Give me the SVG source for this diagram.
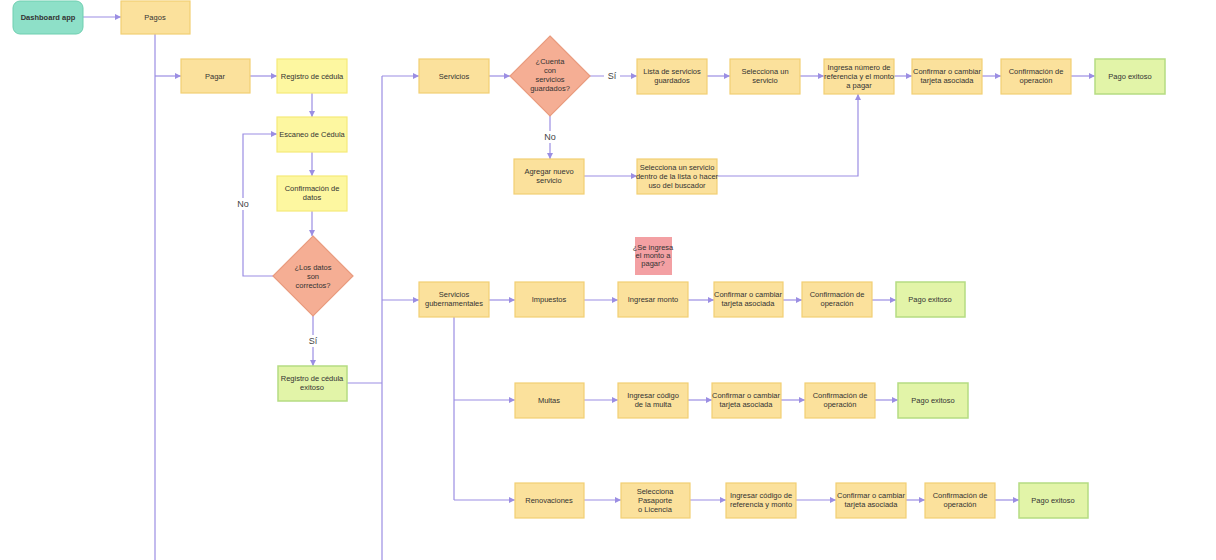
<svg xmlns="http://www.w3.org/2000/svg" width="1216" height="560" viewBox="0 0 1216 560">
<style>
text{font-family:"Liberation Sans",Arial,sans-serif;font-size:7.5px;fill:#333;text-anchor:middle}
.n{fill:#fbe19c;stroke:#f2cf73;stroke-width:1.2}
.y{fill:#fdf7a0;stroke:#f5ea78;stroke-width:1.2}
.g{fill:#e2f4a8;stroke:#b5dc82;stroke-width:1.5}
.d{fill:#f5ae94;stroke:#e99b7e;stroke-width:1.2}
.c{fill:none;stroke:#9b8ee3;stroke-width:1.2}
.a{marker-end:url(#ar)}
.lb{font-size:9px;fill:#444}
</style>
<defs><marker id="ar" viewBox="0 0 6 6" refX="6" refY="3" markerWidth="5" markerHeight="5" orient="auto"><path d="M0,0L6,3L0,6z" fill="#9b8ee3"/></marker></defs>
<rect width="1216" height="560" fill="#fff"/>
<g id="connectors">
<path class="c a" d="M83,17H121"/>
<path class="c" d="M155,34V560"/>
<path class="c a" d="M155,76H181"/>
<path class="c a" d="M250,76H277"/>
<path class="c a" d="M312,93V117"/>
<path class="c a" d="M312,152V176"/>
<path class="c a" d="M312,211V236"/>
<path class="c a" d="M273,276H243V134H277"/>
<path class="c a" d="M313,316V366"/>
<path class="c" d="M347,383H382"/>
<path class="c" d="M382,76V560"/>
<path class="c a" d="M382,76H419"/>
<path class="c a" d="M382,300H419"/>
<path class="c a" d="M489,76H510"/>
<path class="c a" d="M590,76H637"/>
<path class="c a" d="M550,116V159"/>
<path class="c a" d="M707,76H730"/>
<path class="c a" d="M800,76H824"/>
<path class="c a" d="M894,76H912"/>
<path class="c a" d="M982,76H1001"/>
<path class="c a" d="M1071,76H1095"/>
<path class="c a" d="M584,176H637"/>
<path class="c a" d="M717,176H858V94"/>
<path class="c a" d="M489,300H515"/>
<path class="c a" d="M584,300H618"/>
<path class="c a" d="M688,300H714"/>
<path class="c a" d="M783,300H802"/>
<path class="c a" d="M872,300H896"/>
<path class="c" d="M454,317V500"/>
<path class="c a" d="M454,400H515"/>
<path class="c a" d="M584,400H618"/>
<path class="c a" d="M688,400H712"/>
<path class="c a" d="M781,400H805"/>
<path class="c a" d="M875,400H898"/>
<path class="c a" d="M454,500H515"/>
<path class="c a" d="M584,500H621"/>
<path class="c a" d="M690,500H726"/>
<path class="c a" d="M796,500H836"/>
<path class="c a" d="M906,500H925"/>
<path class="c a" d="M995,500H1019"/>
<rect x="234" y="198" width="18" height="12" fill="#fff"/><text class="lb" x="243" y="207">No</text>
<rect x="305" y="335" width="16" height="12" fill="#fff"/><text class="lb" x="313" y="344">Sí</text>
<rect x="604" y="70" width="16" height="12" fill="#fff"/><text class="lb" x="612" y="79">Sí</text>
<rect x="540" y="131" width="20" height="12" fill="#fff"/><text class="lb" x="550" y="140">No</text>
</g>
<g id="dashboard"><rect x="13" y="1" width="70" height="33" rx="7" fill="#8ee0c8" stroke="#6fcfb0"/><text x="48" y="20" font-weight="bold">Dashboard app</text></g>
<g id="pagos"><rect class="n" x="121" y="1" width="69" height="33"/><text x="155" y="20">Pagos</text></g>
<g id="pagar"><rect class="n" x="181" y="59" width="69" height="34"/><text x="215" y="79">Pagar</text></g>
<g id="registro"><rect class="y" x="277" y="59" width="70" height="34"/><text x="312" y="79">Registro de cédula</text></g>
<g id="escaneo"><rect class="y" x="277" y="117" width="70" height="35"/><text x="312" y="137">Escaneo de Cédula</text></g>
<g id="confdatos"><rect class="y" x="277" y="176" width="70" height="35"/><text x="312" y="191">Confirmación de</text><text x="312" y="200">datos</text></g>
<g id="dec1"><path class="d" d="M313,236L353,276L313,316L273,276Z"/><text x="313" y="270">¿Los datos</text><text x="313" y="279">son</text><text x="313" y="288">correctos?</text></g>
<g id="regok"><rect class="g" x="278" y="366" width="69" height="35"/><text x="312" y="381">Registro de cédula</text><text x="312" y="390">exitoso</text></g>
<g id="servicios"><rect class="n" x="419" y="59" width="70" height="34"/><text x="454" y="79">Servicios</text></g>
<g id="dec2"><path class="d" d="M550,36L590,76L550,116L510,76Z"/><text x="550" y="64">¿Cuenta</text><text x="550" y="73">con</text><text x="550" y="82">servicios</text><text x="550" y="91">guardados?</text></g>
<g id="lista"><rect class="n" x="637" y="59" width="70" height="35"/><text x="672" y="74">Lista de servicios</text><text x="672" y="83">guardados</text></g>
<g id="selec"><rect class="n" x="730" y="59" width="70" height="35"/><text x="765" y="74">Selecciona un</text><text x="765" y="83">servicio</text></g>
<g id="ingresa"><rect class="n" x="824" y="59" width="70" height="35"/><text x="859" y="70">Ingresa número de</text><text x="859" y="79">referencia y el monto</text><text x="859" y="88">a pagar</text></g>
<g id="conf1"><rect class="n" x="912" y="59" width="70" height="35"/><text x="947" y="74">Confirmar o cambiar</text><text x="947" y="83">tarjeta asociada</text></g>
<g id="op1"><rect class="n" x="1001" y="59" width="70" height="35"/><text x="1036" y="74">Confirmación de</text><text x="1036" y="83">operación</text></g>
<g id="ok1"><rect class="g" x="1095" y="59" width="70" height="35"/><text x="1130" y="79">Pago exitoso</text></g>
<g id="agregar"><rect class="n" x="514" y="159" width="70" height="35"/><text x="549" y="174">Agregar nuevo</text><text x="549" y="183">servicio</text></g>
<g id="seldentro"><rect class="n" x="637" y="159" width="80" height="35"/><text x="677" y="170">Selecciona un servicio</text><text x="677" y="179">dentro de la lista o hacer</text><text x="677" y="188">uso del buscador</text></g>
<g id="gub"><rect class="n" x="419" y="282" width="70" height="35"/><text x="454" y="297">Servicios</text><text x="454" y="306">gubernamentales</text></g>
<g id="impuestos"><rect class="n" x="515" y="282" width="69" height="35"/><text x="549" y="302">Impuestos</text></g>
<g id="nota"><rect x="635" y="237" width="37" height="38" fill="#f3a0a3"/><text x="653" y="250" font-size="6" fill="#8a3a3a">¿Se ingresa</text><text x="653" y="258" font-size="6" fill="#8a3a3a">el monto a</text><text x="653" y="266" font-size="6" fill="#8a3a3a">pagar?</text></g>
<g id="monto"><rect class="n" x="618" y="282" width="70" height="35"/><text x="653" y="302">Ingresar monto</text></g>
<g id="conf2"><rect class="n" x="714" y="282" width="69" height="35"/><text x="748" y="297">Confirmar o cambiar</text><text x="748" y="306">tarjeta asociada</text></g>
<g id="op2"><rect class="n" x="802" y="282" width="70" height="35"/><text x="837" y="297">Confirmación de</text><text x="837" y="306">operación</text></g>
<g id="ok2"><rect class="g" x="896" y="282" width="69" height="35"/><text x="930" y="302">Pago exitoso</text></g>
<g id="multas"><rect class="n" x="515" y="383" width="69" height="35"/><text x="549" y="403">Multas</text></g>
<g id="codmulta"><rect class="n" x="618" y="383" width="70" height="35"/><text x="653" y="398">Ingresar código</text><text x="653" y="407">de la multa</text></g>
<g id="conf3"><rect class="n" x="712" y="383" width="69" height="35"/><text x="746" y="398">Confirmar o cambiar</text><text x="746" y="407">tarjeta asociada</text></g>
<g id="op3"><rect class="n" x="805" y="383" width="70" height="35"/><text x="840" y="398">Confirmación de</text><text x="840" y="407">operación</text></g>
<g id="ok3"><rect class="g" x="898" y="383" width="70" height="35"/><text x="933" y="403">Pago exitoso</text></g>
<g id="renov"><rect class="n" x="515" y="483" width="69" height="35"/><text x="549" y="503">Renovaciones</text></g>
<g id="pasaporte"><rect class="n" x="621" y="483" width="69" height="35"/><text x="655" y="494">Selecciona</text><text x="655" y="503">Pasaporte</text><text x="655" y="512">o Licencia</text></g>
<g id="codref"><rect class="n" x="726" y="483" width="70" height="35"/><text x="761" y="498">Ingresar código de</text><text x="761" y="507">referencia y monto</text></g>
<g id="conf4"><rect class="n" x="836" y="483" width="70" height="35"/><text x="871" y="498">Confirmar o cambiar</text><text x="871" y="507">tarjeta asociada</text></g>
<g id="op4"><rect class="n" x="925" y="483" width="70" height="35"/><text x="960" y="498">Confirmación de</text><text x="960" y="507">operación</text></g>
<g id="ok4"><rect class="g" x="1019" y="483" width="69" height="35"/><text x="1053" y="503">Pago exitoso</text></g>
</svg>
